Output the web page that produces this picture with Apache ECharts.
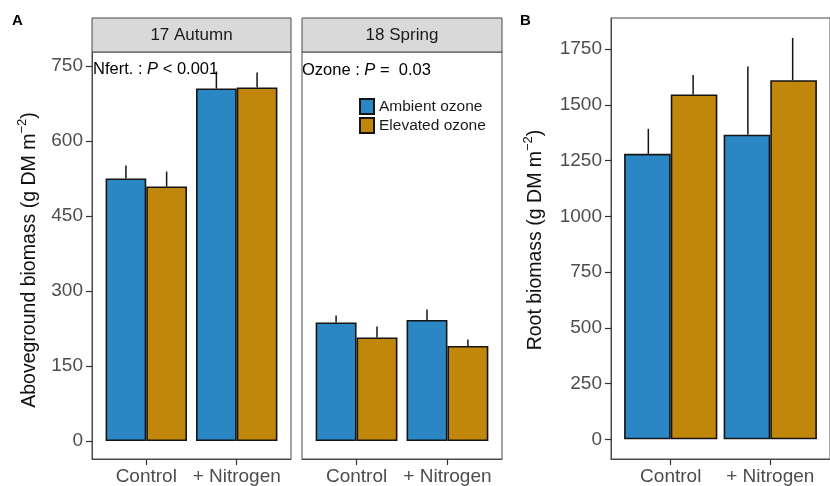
<!DOCTYPE html>
<html><head><meta charset="utf-8">
<script src="https://cdn.jsdelivr.net/npm/echarts@6/dist/echarts.min.js"></script>
<style>html,body{margin:0;padding:0;background:#fff}#c{width:830px;height:486px}</style>
</head><body><div id="c"></div>
<script>
// ---- data ----
const categories = ['Control', '+ Nitrogen'];
const seasons = ['17 Autumn', '18 Spring'];
const seriesNames = ['Ambient ozone', 'Elevated ozone'];
const autumnAmbient = [525, 705];
const autumnAmbientErr = [26, 34];
const autumnElevated = [509, 707];
const autumnElevatedErr = [30, 30];
const springAmbient = [237, 242];
const springAmbientErr = [14, 21];
const springElevated = [207, 190];
const springElevatedErr = [22, 13];
const rootAmbient = [1280, 1366];
const rootAmbientErr = [112, 306];
const rootElevated = [1546, 1610];
const rootElevatedErr = [88, 190];
const ticksA = [0, 150, 300, 450, 600, 750];
const ticksB = [0, 250, 500, 750, 1000, 1250, 1500, 1750];
const annotA = ['Nfert.', '< 0.001'];
const annotB = ['Ozone', '= \u00a00.03'];

// ---- style ----
const FONT = 'Liberation Sans, Arial, Helvetica, sans-serif';
const BLUE = '#2b87c4';
const GOLD = '#c0870a';
const EDGE = '#141414';
const FRAME = '#4a4a4a';
const grids = [
  {left: 92, top: 52, width: 199, height: 407},
  {left: 302, top: 52, width: 200, height: 407},
  {left: 611, top: 18, width: 228, height: 441}
];
const yRanges = [[-36, 778], [-36, 778], [-88, 1889]];
const yTicks = [ticksA, null, ticksB];
const panelData = [
  [autumnAmbient, autumnAmbientErr, autumnElevated, autumnElevatedErr],
  [springAmbient, springAmbientErr, springElevated, springElevatedErr],
  [rootAmbient, rootAmbientErr, rootElevated, rootElevatedErr]
];
const DODGE = 0.225; // half of a 0.45-unit bar

const xAxes = grids.map((g, i) => ({
  type: 'value', gridIndex: i, min: 0.4, max: 2.6,
  axisLine: {show: true, onZero: false, lineStyle: {color: FRAME, width: 1}},
  axisTick: {show: true, customValues: [1, 2], length: 6, lineStyle: {color: '#333', width: 1.2}},
  axisLabel: {customValues: [1, 2], formatter: v => categories[Math.round(v) - 1],
    fontSize: 19, color: '#4d4d4d', fontFamily: FONT, margin: 8},
  splitLine: {show: false}
}));
const yAxes = grids.map((g, i) => {
  const t = yTicks[i];
  return {
    type: 'value', gridIndex: i, min: yRanges[i][0], max: yRanges[i][1],
    axisLine: {show: !!t, onZero: false, lineStyle: {color: FRAME, width: 1}},
    axisTick: t ? {show: true, customValues: t, length: 6, lineStyle: {color: '#333', width: 1.2}} : {show: false},
    axisLabel: t ? {customValues: t, formatter: v => String(v), fontSize: 19, color: '#4d4d4d', fontFamily: FONT, margin: 9} : {show: false},
    splitLine: {show: false}
  };
});

const series = [];
panelData.forEach((pd, i) => {
  const bw = grids[i].width / 2.2 * 0.45;
  const [amb, ambE, ele, eleE] = pd;
  series.push({
    type: 'bar', name: seriesNames[0], xAxisIndex: i, yAxisIndex: i,
    barWidth: bw, barGap: '0%',
    data: amb.map((v, k) => [k + 1, v]),
    itemStyle: {color: BLUE, borderColor: EDGE, borderWidth: 1.6},
    silent: true
  });
  series.push({
    type: 'bar', name: seriesNames[1], xAxisIndex: i, yAxisIndex: i,
    barWidth: bw, barGap: '0%',
    data: ele.map((v, k) => [k + 1, v]),
    itemStyle: {color: GOLD, borderColor: EDGE, borderWidth: 1.6},
    silent: true
  });
  const errData = [];
  amb.forEach((v, k) => errData.push([k + 1 - DODGE, v, ambE[k]]));
  ele.forEach((v, k) => errData.push([k + 1 + DODGE, v, eleE[k]]));
  series.push({
    type: 'custom', xAxisIndex: i, yAxisIndex: i, silent: true, z: 5,
    encode: {x: 0, y: 1},
    data: errData,
    renderItem: (params, api) => {
      const x = api.value(0), v = api.value(1), e = api.value(2);
      const p0 = api.coord([x, v]);
      const p1 = api.coord([x, v + e]);
      return {type: 'line', shape: {x1: p0[0], y1: p0[1], x2: p1[0], y2: p1[1]},
        style: {stroke: EDGE, lineWidth: 1.5}};
    }
  });
});

const graphics = [];
[0, 1].forEach(i => {
  const g = grids[i];
  graphics.push({type: 'rect', shape: {x: g.left, y: 18, width: g.width, height: 34},
    style: {fill: '#d9d9d9', stroke: FRAME, lineWidth: 1}});
  graphics.push({type: 'text', x: g.left + g.width / 2, y: 35,
    style: {text: seasons[i], fontSize: 17, fontFamily: FONT, fill: '#1a1a1a', align: 'center', verticalAlign: 'middle'}});
});
graphics.push({type: 'text', x: 12, y: 21, style: {text: 'A', fontSize: 15, fontWeight: 'bold', fontFamily: FONT, fill: '#000', verticalAlign: 'middle'}});
graphics.push({type: 'text', x: 520, y: 21, style: {text: 'B', fontSize: 15, fontWeight: 'bold', fontFamily: FONT, fill: '#000', verticalAlign: 'middle'}});
graphics.push({type: 'text', x: 93, y: 69, z: 10, style: {
  text: '{a|' + annotA[0] + ' : }{i|P}{a| ' + annotA[1] + '}', verticalAlign: 'middle',
  rich: {a: {fontSize: 16.5, fontFamily: FONT, fill: '#000'}, i: {fontSize: 16.5, fontFamily: FONT, fontStyle: 'italic', fill: '#000'}}}});
graphics.push({type: 'text', x: 302, y: 70, z: 10, style: {
  text: '{a|' + annotB[0] + ' : }{i|P}{a| ' + annotB[1] + '}', verticalAlign: 'middle',
  rich: {a: {fontSize: 16.5, fontFamily: FONT, fill: '#000'}, i: {fontSize: 16.5, fontFamily: FONT, fontStyle: 'italic', fill: '#000'}}}});
const titleRich = {
  t: {fontSize: 19.5, fontFamily: FONT, fill: '#111', lineHeight: 28},
  s: {fontSize: 13, fontFamily: FONT, fill: '#111', verticalAlign: 'top'}
};
graphics.push({type: 'text', x: 30, y: 260, rotation: Math.PI / 2, style: {
  text: '{t|Aboveground biomass (g DM m}{s|\u22122}{t|)}', align: 'center', verticalAlign: 'middle', rich: titleRich}});
graphics.push({type: 'text', x: 536, y: 240, rotation: Math.PI / 2, style: {
  text: '{t|Root biomass (g DM m}{s|\u22122}{t|)}', align: 'center', verticalAlign: 'middle', rich: titleRich}});

const chart = echarts.init(document.getElementById('c'), null, {renderer: 'canvas'});
chart.setOption({
  animation: false,
  backgroundColor: '#fff',
  textStyle: {fontFamily: FONT},
  grid: grids.map(g => Object.assign({show: true, borderColor: FRAME, borderWidth: 1, backgroundColor: '#fff', containLabel: false}, g)),
  xAxis: xAxes,
  yAxis: yAxes,
  legend: {
    data: seriesNames, orient: 'vertical', left: 359, top: 98, padding: 0,
    itemWidth: 14, itemHeight: 15, itemGap: 2, icon: 'rect', selectedMode: false,
    textStyle: {fontSize: 15.5, color: '#1a1a1a', fontFamily: FONT}
  },
  series: series,
  graphic: graphics
});
</script></body></html>
